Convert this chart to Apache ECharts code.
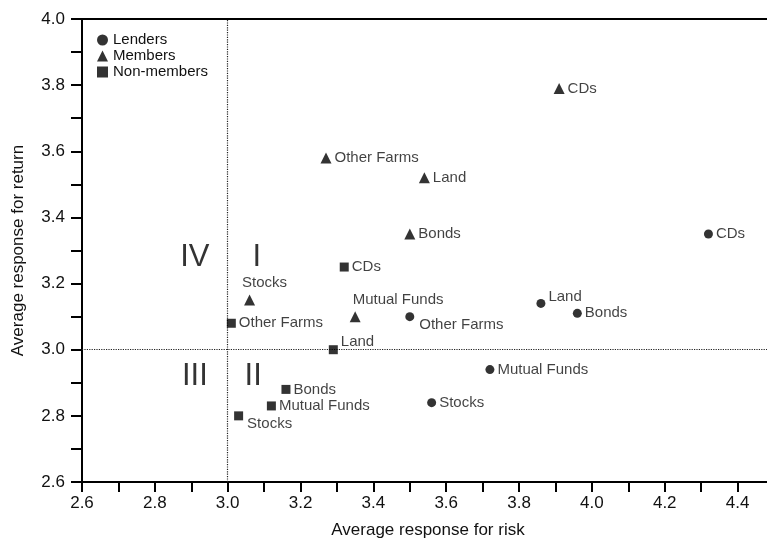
<!DOCTYPE html>
<html>
<head>
<meta charset="utf-8">
<script src="https://cdn.jsdelivr.net/npm/echarts@6/dist/echarts.min.js"></script>
<style>html,body{margin:0;padding:0;background:#fff}#chart{width:767px;height:540px}</style>
</head>
<body>
<div id="chart"></div>
<script>
// ---- data ----
const categories = ['CDs', 'Land', 'Bonds', 'Other Farms', 'Mutual Funds', 'Stocks'];
const lendersRisk = [4.32, 3.86, 3.96, 3.50, 3.72, 3.56];
const lendersReturn = [3.35, 3.14, 3.11, 3.10, 2.94, 2.84];
const membersRisk = [3.91, 3.54, 3.50, 3.27, 3.35, 3.06];
const membersReturn = [3.79, 3.52, 3.35, 3.58, 3.10, 3.15];
const nonMembersRisk = [3.32, 3.29, 3.16, 3.01, 3.12, 3.03];
const nonMembersReturn = [3.25, 3.00, 2.88, 3.08, 2.83, 2.80];
const quadrantNames = ['I', 'II', 'III', 'IV'];
const quadrantRisk = [3.08, 3.07, 2.91, 2.91];
const quadrantReturn = [3.28, 2.92, 2.92, 3.28];
const seriesNames = ['Lenders', 'Members', 'Non-members'];
const xTickMin = 2.6, xTickMax = 4.5, yTickMin = 2.6, yTickMax = 4.0;

// ---- label placement (style only): shift in pixels from the default right-side label ----
const labelShift = {
  'Lenders|Land': [0, -7],
  'Lenders|Other Farms': [2, 8],
  'Members|Stocks': [-16, -17],
  'Members|Mutual Funds': [-11, -17],
  'Non-members|Land': [0, -8],
  'Non-members|Stocks': [1, 8]
};

const FONT = 'Liberation Sans, Arial, Helvetica, sans-serif';
const INK = '#111';

function buildPoints(xs, ys) {
  return categories.map((c, i) => ({ name: c, value: [xs[i], ys[i]] }));
}

const symbols = ['circle', 'triangle', 'rect'];
const sizes = [9, 11, 9];
const xsAll = [lendersRisk, membersRisk, nonMembersRisk];
const ysAll = [lendersReturn, membersReturn, nonMembersReturn];

const pointSeries = seriesNames.map((n, k) => ({
  name: n,
  type: 'scatter',
  symbol: symbols[k],
  symbolSize: sizes[k],
  itemStyle: { color: '#000' },
  label: {
    show: true,
    position: 'right',
    distance: 3,
    formatter: '{b}',
    color: INK,
    fontSize: 15,
    fontFamily: FONT
  },
  labelLayout: function (p) {
    const s = labelShift[n + '|' + categories[p.dataIndex]];
    return s ? { dx: s[0], dy: s[1], hideOverlap: false } : { hideOverlap: false };
  },
  data: buildPoints(xsAll[k], ysAll[k]),
  z: 5
}));

const chart = echarts.init(document.getElementById('chart'), null, { renderer: 'canvas' });

const evenLabel = v => (Math.round(v * 10) % 2 === 0 ? v.toFixed(1) : '');

chart.setOption({
  animation: false,
  backgroundColor: '#fff',
  grid: { left: 82, top: 19, width: 692, height: 463, outerBoundsMode: 'none', containLabel: false },
  legend: {
    data: seriesNames,
    orient: 'vertical',
    left: 92,
    top: 27,
    padding: 5,
    itemWidth: 11,
    itemHeight: 11,
    itemGap: 0,
    textStyle: { color: INK, fontSize: 15, fontFamily: FONT, lineHeight: 16 },
    selectedMode: false
  },
  xAxis: [{
    type: 'value',
    min: xTickMin, max: xTickMax, interval: 0.1,
    name: 'Average response for risk',
    nameLocation: 'middle',
    nameGap: 40,
    nameTextStyle: { color: INK, fontSize: 17, fontFamily: FONT },
    axisLine: { show: true, onZero: false, lineStyle: { color: '#000', width: 2 } },
    axisTick: { show: true, inside: false, length: 10, lineStyle: { color: '#000', width: 2 } },
    axisLabel: { formatter: evenLabel, color: INK, fontSize: 17, fontFamily: FONT, margin: 13, showMaxLabel: false },
    splitLine: { show: false }
  }, {
    type: 'value', position: 'top',
    min: xTickMin, max: xTickMax,
    axisLine: { show: true, onZero: false, lineStyle: { color: '#000', width: 2 } },
    axisTick: { show: false }, axisLabel: { show: false }, splitLine: { show: false }
  }],
  yAxis: {
    type: 'value',
    min: yTickMin, max: yTickMax, interval: 0.1,
    name: 'Average response for return',
    nameLocation: 'middle',
    nameGap: 55,
    nameTextStyle: { color: INK, fontSize: 17, fontFamily: FONT },
    axisLine: { show: true, onZero: false, lineStyle: { color: '#000', width: 2 } },
    axisTick: { show: true, inside: false, length: 11, lineStyle: { color: '#000', width: 2 } },
    axisLabel: { formatter: evenLabel, color: INK, fontSize: 17, fontFamily: FONT, margin: 17 },
    splitLine: { show: false }
  },
  series: pointSeries.concat([{
    name: 'quadrants',
    type: 'scatter',
    symbolSize: 0,
    silent: true,
    label: {
      show: true,
      position: 'inside',
      formatter: '{b}',
      color: '#000',
      fontSize: 31,
      fontFamily: FONT
    },
    data: quadrantNames.map((q, i) => ({ name: q, value: [quadrantRisk[i], quadrantReturn[i]] })),
    markLine: {
      silent: true,
      symbol: 'none',
      label: { show: false },
      lineStyle: { color: '#222', width: 1.2, type: 'dotted' },
      data: [{ xAxis: 3.0 }, { yAxis: 3.0 }]
    },
    z: 2
  }])
});
</script>
</body>
</html>
